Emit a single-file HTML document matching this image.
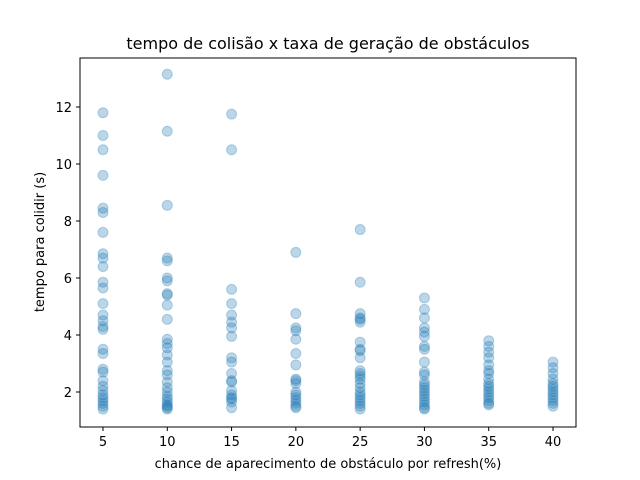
<!DOCTYPE html>
<html><head><meta charset="utf-8"><style>
body{margin:0;background:#fff;}
svg{display:block;font-family:"DejaVu Sans","Liberation Sans",sans-serif;}
</style></head><body>
<svg id="chart" width="640" height="480">
<rect width="640" height="480" fill="#fff"/>
<text x="328" y="49" font-size="16" text-anchor="middle">tempo de colisão x taxa de geração de obstáculos</text>
<g id="marks"></g>
<rect x="80" y="58" width="496" height="369" fill="none" stroke="#000" stroke-width="1"/>
<g id="axes"></g>
<text x="328" y="468" font-size="13" text-anchor="middle">chance de aparecimento de obstáculo por refresh(%)</text>
<text transform="translate(44,242) rotate(-90)" font-size="13" text-anchor="middle">tempo para colidir (s)</text>
</svg>
<script>
const categories=[5,10,15,20,25,30,35,40];
const s5=[11.8,11.0,10.5,9.6,8.45,8.3,7.6,6.85,6.7,6.4,5.85,5.65,5.1,4.7,4.5,4.3,4.2,3.5,3.35,2.8,2.7,2.4,2.2,2.05,1.9,1.8,1.7,1.6,1.5,1.4];
const s10=[13.15,11.15,8.55,6.7,6.6,6.0,5.9,5.45,5.4,5.05,4.55,3.85,3.7,3.55,3.3,3.05,2.75,2.6,2.35,2.15,2.0,1.85,1.75,1.65,1.55,1.5,1.45,1.4];
const s15=[11.75,10.5,5.6,5.1,4.7,4.45,4.25,3.95,3.2,3.05,2.65,2.4,2.35,2.05,1.9,1.8,1.75,1.65,1.45];
const s20=[6.9,4.75,4.25,4.15,3.85,3.35,2.95,2.45,2.4,2.3,2.0,1.9,1.8,1.7,1.6,1.5,1.45];
const s25=[7.7,5.85,4.75,4.6,4.55,4.45,3.75,3.5,3.45,3.2,2.75,2.65,2.55,2.45,2.3,2.15,2.0,1.9,1.8,1.7,1.6,1.5,1.4];
const s30=[5.3,4.9,4.6,4.25,4.1,3.95,3.6,3.5,3.05,2.7,2.6,2.35,2.25,2.15,2.05,1.95,1.85,1.75,1.65,1.55,1.45,1.4];
const s35=[3.8,3.6,3.4,3.2,2.95,2.75,2.65,2.45,2.3,2.2,2.1,2.0,1.9,1.8,1.7,1.6,1.55];
const s40=[3.05,2.85,2.65,2.45,2.3,2.2,2.1,2.0,1.9,1.8,1.7,1.6,1.5];
const series=[s5,s10,s15,s20,s25,s30,s35,s40];
const xTicks=[5,10,15,20,25,30,35,40];
const yTicks=[2,4,6,8,10,12];
const NS="http://www.w3.org/2000/svg";
const xs=v=>103+(v-5)*450/35;
const ys=v=>449-v*28.5;
const marks=document.getElementById('marks');
series.forEach((arr,i)=>{arr.forEach(v=>{
 const c=document.createElementNS(NS,'circle');
 c.setAttribute('cx',xs(categories[i]));c.setAttribute('cy',ys(v));c.setAttribute('r',5);
 c.setAttribute('fill','#1f77b4');c.setAttribute('fill-opacity','0.3');
 c.setAttribute('stroke','#1f77b4');c.setAttribute('stroke-opacity','0.3');c.setAttribute('stroke-width','1');
 
 
 marks.appendChild(c);
});});
const axes=document.getElementById('axes');
xTicks.forEach(t=>{
 const l=document.createElementNS(NS,'line');
 l.setAttribute('x1',xs(t));l.setAttribute('x2',xs(t));l.setAttribute('y1',427);l.setAttribute('y2',431);l.setAttribute('stroke','#000');
 
 
 axes.appendChild(l);
 const tx=document.createElementNS(NS,'text');
 tx.setAttribute('x',xs(t));tx.setAttribute('y',446);tx.setAttribute('font-size','13');tx.setAttribute('text-anchor','middle');
 tx.textContent=t;
 
 
 axes.appendChild(tx);
});
yTicks.forEach(t=>{
 const l=document.createElementNS(NS,'line');
 l.setAttribute('x1',76);l.setAttribute('x2',80);l.setAttribute('y1',ys(t));l.setAttribute('y2',ys(t));l.setAttribute('stroke','#000');
 
 
 axes.appendChild(l);
 const tx=document.createElementNS(NS,'text');
 tx.setAttribute('x',72);tx.setAttribute('y',ys(t)+5);tx.setAttribute('font-size','13');tx.setAttribute('text-anchor','end');
 tx.textContent=t;
 
 
 axes.appendChild(tx);
});
</script>
</body></html>
